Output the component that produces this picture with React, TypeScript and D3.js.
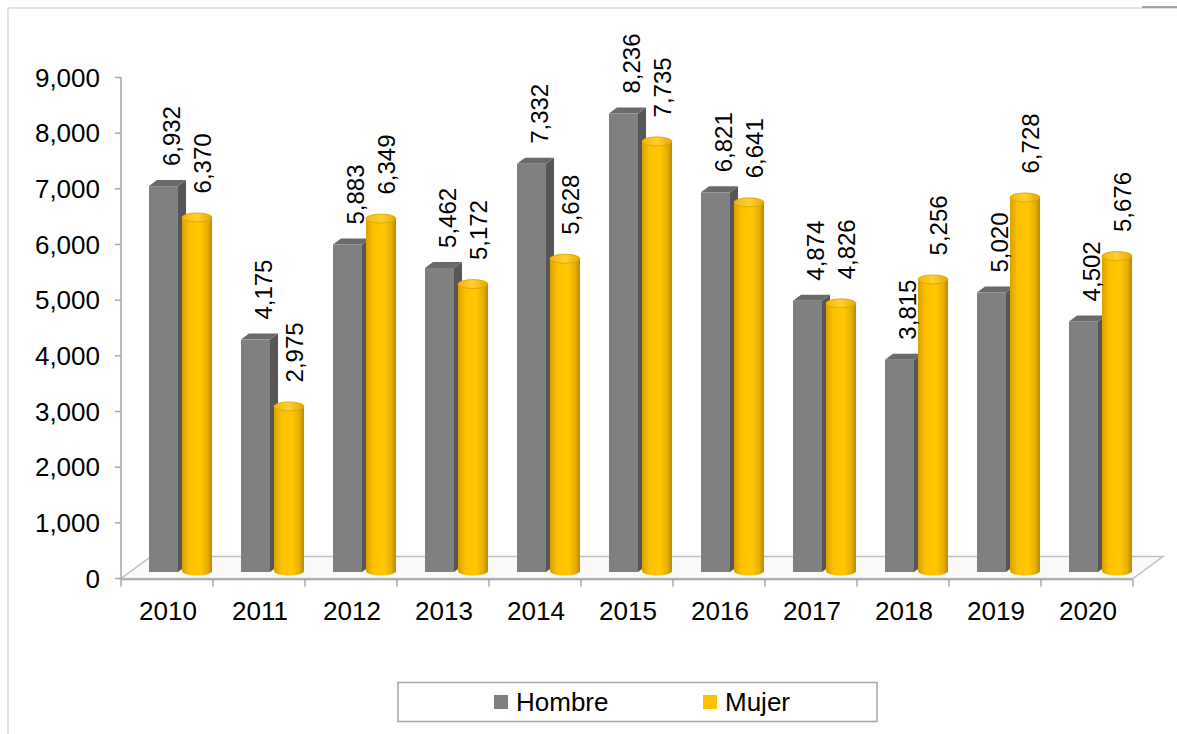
import React from "react";
import * as d3 from "d3";

const years = ["2010", "2011", "2012", "2013", "2014", "2015", "2016", "2017", "2018", "2019", "2020"];
const hombre = [6932, 4175, 5883, 5462, 7332, 8236, 6821, 4874, 3815, 5020, 4502];
const mujer = [6370, 2975, 6349, 5172, 5628, 7735, 6641, 4826, 5256, 6728, 5676];
const yTicks = [0, 1000, 2000, 3000, 4000, 5000, 6000, 7000, 8000, 9000];
const seriesNames = ["Hombre", "Mujer"];

const W = 1177;
const H = 734;
const FONT = "'Liberation Sans', Arial, sans-serif";

export default function App() {
  const y = d3.scaleLinear().domain([0, 9000]).range([578.5, 77.5]);
  const x = d3.scaleBand().domain(years).range([121, 1133]).padding(0);
  const fmt = d3.format(",");
  const lift = 6.5;
  const bw = 29;
  const dx = 8;
  const dy = 6;
  const cylW = 30;
  const ry = 4.5;
  const floorDx = 30;
  const floorDy = 22;
  const x0 = 121, x1 = 1133, yb = 578.5;

  return (
    <svg width={W} height={H} style={{ position: "absolute", left: 0, top: 0 }} fontFamily={FONT}>
      <defs>
        <linearGradient id="gold" x1="0" x2="1" y1="0" y2="0">
          <stop offset="0" stopColor="#d9a200" />
          <stop offset="0.25" stopColor="#ffc000" />
          <stop offset="0.6" stopColor="#ffc800" />
          <stop offset="0.85" stopColor="#e6ad00" />
          <stop offset="1" stopColor="#b88a00" />
        </linearGradient>
        <linearGradient id="goldTop" x1="0" x2="1" y1="0" y2="0">
          <stop offset="0" stopColor="#f2b800" />
          <stop offset="0.5" stopColor="#ffcf33" />
          <stop offset="1" stopColor="#e0a800" />
        </linearGradient>
      </defs>
      <rect x={0} y={0} width={W} height={H} fill="#fff" />
      <line x1={8} y1={8} x2={W} y2={8} stroke="#d9d9d9" strokeWidth={1.5} />
      <line x1={8} y1={8} x2={8} y2={H} stroke="#d9d9d9" strokeWidth={1.5} />
      <line x1={1142} y1={7} x2={W} y2={7} stroke="#8c8c8c" strokeWidth={1.5} />

      <polygon
        points={`${x0},${yb} ${x0 + floorDx},${yb - floorDy} ${x1 + floorDx},${yb - floorDy} ${x1},${yb}`}
        fill="#fafafa"
        stroke="#bfbfbf"
        strokeWidth={1.5}
      />

      <line x1={x0} y1={y(9000)} x2={x0} y2={yb} stroke="#a6a6a6" strokeWidth={1.5} />
      {yTicks.map((t) => (
        <g key={t}>
          <line x1={x0 - 6} x2={x0} y1={y(t)} y2={y(t)} stroke="#a6a6a6" strokeWidth={1.5} />
          <text x={100} y={y(t)} dy="0.35em" textAnchor="end" fontSize={26} fill="#000">
            {fmt(t)}
          </text>
        </g>
      ))}

      <line x1={x0} x2={x1} y1={yb + 1} y2={yb + 1} stroke="#a6a6a6" strokeWidth={1.5} />
      {years.concat(["end"]).map((yr, i) => {
        const xx = x0 + i * x.bandwidth();
        return <line key={yr} x1={xx} x2={xx} y1={yb + 1} y2={yb + 8} stroke="#a6a6a6" strokeWidth={1.5} />;
      })}
      {years.map((yr) => (
        <text key={yr} x={(x(yr) as number) + x.bandwidth() / 2 + 1} y={620} textAnchor="middle" fontSize={26} fill="#000">
          {yr}
        </text>
      ))}

      {years.map((yr, i) => {
        const bx = (x(yr) as number) + 28;
        const base = yb - lift;
        const hTop = y(hombre[i]) - lift;
        const cx = (x(yr) as number) + 61;
        const mTop = y(mujer[i]) - lift;
        return (
          <g key={yr}>
            <polygon
              points={`${bx + bw},${hTop} ${bx + bw + dx},${hTop - dy} ${bx + bw + dx},${base - dy} ${bx + bw},${base}`}
              fill="#565656"
            />
            <polygon
              points={`${bx},${hTop} ${bx + dx},${hTop - dy} ${bx + bw + dx},${hTop - dy} ${bx + bw},${hTop}`}
              fill="#6a6a6a"
            />
            <rect x={bx} y={hTop} width={bw} height={base - hTop} fill="#808080" />
            <ellipse cx={cx + cylW / 2} cy={base - 1} rx={cylW / 2} ry={ry} fill="url(#gold)" />
            <rect x={cx} y={mTop} width={cylW} height={base - 1 - mTop} fill="url(#gold)" />
            <ellipse cx={cx + cylW / 2} cy={mTop} rx={cylW / 2} ry={ry} fill="url(#goldTop)" stroke="#d9a000" strokeWidth={0.8} />
            <text
              transform={`translate(${bx + bw / 2 + 8},${hTop - 20}) rotate(-90)`}
              dy="0.35em"
              fontSize={24}
              fill="#000"
            >
              {fmt(hombre[i])}
            </text>
            <text
              transform={`translate(${cx + cylW / 2 + 6},${mTop - 24}) rotate(-90)`}
              dy="0.35em"
              fontSize={24}
              fill="#000"
            >
              {fmt(mujer[i])}
            </text>
          </g>
        );
      })}

      <rect x={398} y={682.5} width={479} height={39} fill="#fff" stroke="#a6a6a6" strokeWidth={1.5} />
      <rect x={494} y={695} width={14} height={14} fill="#808080" />
      <text x={516} y={702} dy="0.35em" fontSize={26} fill="#000">{seriesNames[0]}</text>
      <rect x={703} y={695} width={14} height={14} fill="#ffc000" />
      <text x={725} y={702} dy="0.35em" fontSize={26} fill="#000">{seriesNames[1]}</text>
    </svg>
  );
}
